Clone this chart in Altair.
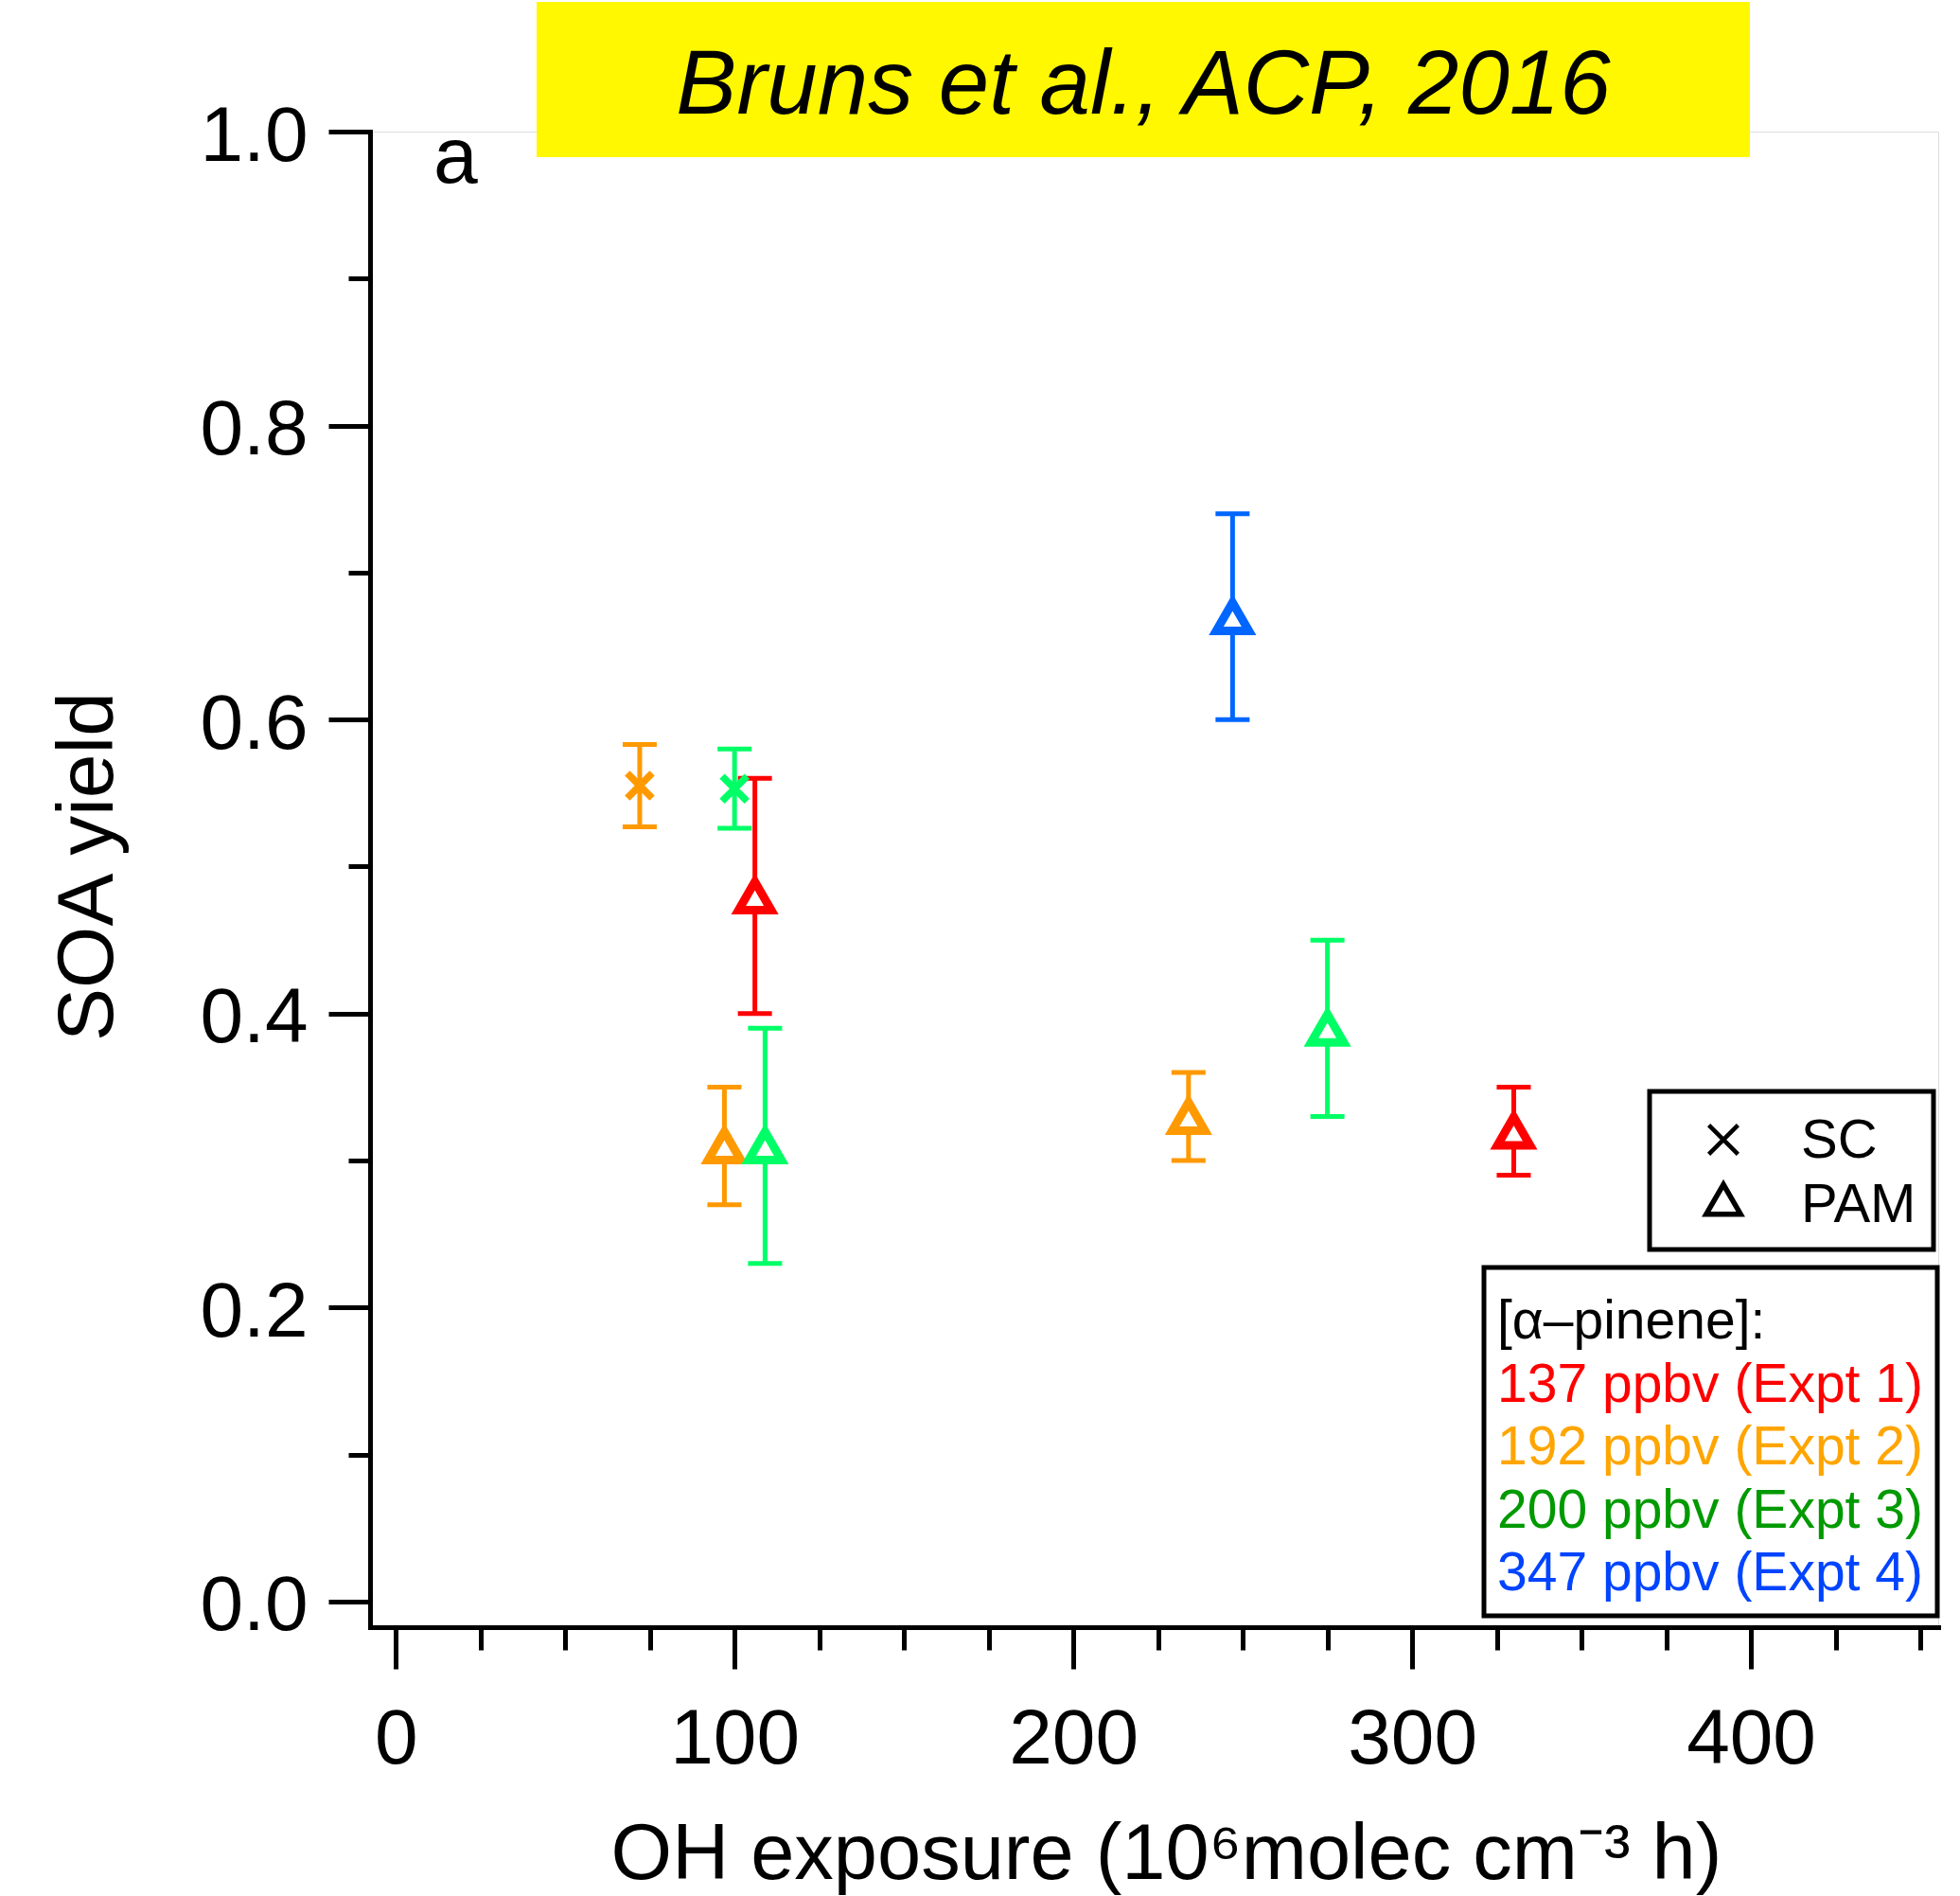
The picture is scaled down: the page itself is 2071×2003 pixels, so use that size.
import altair as alt
import pandas as pd

FONT = "Liberation Sans"

# ---------------- data ----------------
expt = ["Expt 2", "Expt 3", "Expt 1", "Expt 2", "Expt 3", "Expt 2", "Expt 4", "Expt 3", "Expt 1"]
method = ["SC", "SC", "PAM", "PAM", "PAM", "PAM", "PAM", "PAM", "PAM"]
oh_exposure = [72, 100, 106, 97, 109, 234, 247, 275, 330]
soa_yield = [0.555, 0.553, 0.48, 0.31, 0.31, 0.33, 0.67, 0.39, 0.32]
yield_err = [0.028, 0.027, 0.08, 0.04, 0.08, 0.03, 0.07, 0.06, 0.03]

expt_names = ["Expt 1", "Expt 2", "Expt 3", "Expt 4"]
marker_colors = ["#FF0000", "#FF9900", "#00FF66", "#0066FF"]

legend_header = "[\u03b1\u2013pinene]:"
legend_conc = ["137 ppbv (Expt 1)", "192 ppbv (Expt 2)", "200 ppbv (Expt 3)", "347 ppbv (Expt 4)"]
legend_text_colors = ["#FF0000", "#FFA500", "#009A00", "#0044FF"]
method_names = ["SC", "PAM"]

x_major = [0, 100, 200, 300, 400]
x_minor = [0, 25, 50, 75, 100, 125, 150, 175, 200, 225, 250, 275, 300, 325, 350, 375, 400, 425, 450]
y_major = [0.0, 0.2, 0.4, 0.6, 0.8, 1.0]
y_minor = [0.0, 0.1, 0.2, 0.3, 0.4, 0.5, 0.6, 0.7, 0.8, 0.9, 1.0]

title_text = "Bruns et al., ACP, 2016"
panel_label = "a"
x_title = "OH exposure (10\u2076molec cm\u207b\u00b3 h)"
y_title = "SOA yield"

# ---------------- tables ----------------
df = pd.DataFrame({"expt": expt, "method": method, "oh": oh_exposure,
                   "y": soa_yield, "err": yield_err})
df["lo"] = df["y"] - df["err"]
df["hi"] = df["y"] + df["err"]
caps_df = pd.concat([df.assign(cap=df["lo"]), df.assign(cap=df["hi"])], ignore_index=True)

W, H = 1657, 1580
xs = alt.Scale(domain=[-7.6, 455.3], nice=False, zero=False)
ys = alt.Scale(domain=[-0.0174, 1.0], nice=False, zero=False)
cs = alt.Scale(domain=expt_names, range=marker_colors)

common = dict(domainColor="black", domainWidth=5, domainCap="square", tickColor="black",
              tickWidth=5, grid=False, labelFont=FONT, labelFontSize=82, labelColor="black",
              titleFont=FONT, titleColor="black", titleFontWeight="normal")

x_minor_axis = alt.Axis(orient="bottom", values=x_minor, tickSize=24, labels=False, title=None, **common)
y_minor_axis = alt.Axis(orient="left", values=y_minor, tickSize=23, labels=False, title=None, **common)
x_major_axis = alt.Axis(orient="bottom", values=x_major, tickSize=44, labelPadding=34, format="d",
                        title=x_title, titleFontSize=83, titleBaseline="alphabetic",
                        titleAlign="center", titleX=841, titleY=265, **common)
y_major_axis = alt.Axis(orient="left", values=y_major, tickSize=44, labelPadding=22, format=".1f",
                        labelOffset=5, title=y_title, titleFontSize=84, titleAngle=270,
                        titleBaseline="alphabetic", titleAlign="center", titleX=-273, titleY=776,
                        **common)

rules = alt.Chart(df).mark_rule(strokeWidth=5).encode(
    x=alt.X("oh:Q", scale=xs, axis=x_minor_axis),
    y=alt.Y("lo:Q", scale=ys, axis=y_minor_axis),
    y2="hi:Q",
    color=alt.Color("expt:N", scale=cs, legend=None),
)

caps = alt.Chart(caps_df).mark_tick(orient="horizontal", size=36, thickness=5, opacity=1).encode(
    x=alt.X("oh:Q", scale=xs, axis=x_major_axis),
    y=alt.Y("cap:Q", scale=ys, axis=y_major_axis),
    color=alt.Color("expt:N", scale=cs, legend=None),
)

tri = alt.Chart(df).transform_filter(alt.datum.method == "PAM").mark_point(
    shape="triangle-up", size=1190, strokeWidth=9, fill="white", fillOpacity=1, opacity=1
).encode(
    x=alt.X("oh:Q", scale=xs, axis=None),
    y=alt.Y("y:Q", scale=ys, axis=None),
    stroke=alt.Stroke("expt:N", scale=cs, legend=None),
)

cross_path = "M-1,-1L1,1M-1,1L1,-1"
cross = alt.Chart(df).transform_filter(alt.datum.method == "SC").mark_point(
    shape=cross_path, size=690, strokeWidth=7.5, filled=False, opacity=1
).encode(
    x=alt.X("oh:Q", scale=xs, axis=None),
    y=alt.Y("y:Q", scale=ys, axis=None),
    stroke=alt.Stroke("expt:N", scale=cs, legend=None),
)

one = pd.DataFrame({"k": [0]})

title_box = alt.Chart(one).mark_rect(fill="#FFF800").encode(
    x=alt.value(176), x2=alt.value(1458), y=alt.value(-137), y2=alt.value(27))
title_mark = alt.Chart(one).mark_text(text=title_text, font=FONT, fontSize=96, fontStyle="italic",
                                      align="center", baseline="alphabetic", color="black").encode(
    x=alt.value(817), y=alt.value(-19))
label_a = alt.Chart(one).mark_text(text=panel_label, font=FONT, fontSize=84, align="left",
                                   baseline="alphabetic", color="black").encode(
    x=alt.value(67), y=alt.value(54))

box1 = alt.Chart(one).mark_rect(fill="white", stroke="black", strokeWidth=5).encode(
    x=alt.value(1352), x2=alt.value(1652), y=alt.value(1014), y2=alt.value(1181))
box2 = alt.Chart(one).mark_rect(fill="white", stroke="black", strokeWidth=5).encode(
    x=alt.value(1177), x2=alt.value(1656), y=alt.value(1200), y2=alt.value(1568))

leg_cross = alt.Chart(one).mark_point(shape=cross_path, size=950, strokeWidth=4.5, filled=False,
                                      stroke="black", opacity=1).encode(
    x=alt.value(1430), y=alt.value(1065))
leg_tri = alt.Chart(one).mark_point(shape="triangle-up", size=1320, strokeWidth=5.5, fill="white",
                                    stroke="black", opacity=1).encode(
    x=alt.value(1430), y=alt.value(1128))

meth_df = pd.DataFrame({"label": method_names})
meth_df["py"] = [1084 + 68 * i for i in range(len(meth_df))]
leg_meth = alt.Chart(meth_df).mark_text(font=FONT, fontSize=58, align="left", baseline="alphabetic",
                                        color="black").encode(
    x=alt.value(1512), y=alt.Y("py:Q", scale=None, axis=None), text="label:N")

conc_df = pd.DataFrame({"label": [legend_header] + legend_conc,
                        "tc": ["#000000"] + legend_text_colors})
conc_df["py"] = [1275 + 66.5 * i for i in range(len(conc_df))]
leg_conc = alt.Chart(conc_df).mark_text(font=FONT, fontSize=57, align="left",
                                        baseline="alphabetic").encode(
    x=alt.value(1191), y=alt.Y("py:Q", scale=None, axis=None), text="label:N",
    color=alt.Color("tc:N", scale=None, legend=None))

chart = alt.layer(
    title_box, title_mark, rules, caps, tri, cross, label_a,
    box1, box2, leg_cross, leg_tri, leg_meth, leg_conc
).resolve_axis(x="independent", y="independent").properties(
    width=W, height=H,
    autosize=alt.AutoSizeParams(type="none"),
    padding={"left": 391, "top": 139, "right": 23, "bottom": 284},
    background="white",
).configure_view(stroke=None).configure(font=FONT)

chart.save("out.html", embed_options={"renderer": "svg", "actions": False})
